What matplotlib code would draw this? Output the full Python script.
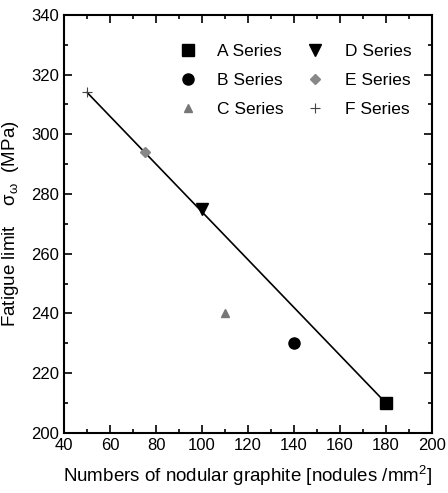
import numpy as np
import matplotlib.pyplot as plt
from matplotlib.ticker import MultipleLocator

plt.rcParams['font.family'] = ['Liberation Sans', 'DejaVu Sans']
plt.rcParams['mathtext.fontset'] = 'custom'
plt.rcParams['mathtext.rm'] = 'Liberation Sans'
plt.rcParams['mathtext.it'] = 'Liberation Sans'

# ---------------------------
# DATA
# ---------------------------
series = ['A Series', 'B Series', 'C Series', 'D Series', 'E Series', 'F Series']
nodules = [180, 140, 110, 100, 75, 50]
fatigue = [210, 230, 240, 275, 294, 314]

fit_x = [50, 180]
fit_y = [314, 210]

styles = [
    dict(marker='s', color='black', ms=9),
    dict(marker='o', color='black', ms=8),
    dict(marker='^', color='#777777', ms=6),
    dict(marker='v', color='black', ms=9),
    dict(marker='D', color='#888888', ms=5),
    dict(marker='+', color='#444444', ms=7, mew=0.8),
]

# ---------------------------
# PLOT
# ---------------------------
fig = plt.figure(figsize=(4.48, 4.93), dpi=100)
ax = fig.add_axes([0.143, 0.122, 0.821, 0.848])

ax.plot(fit_x, fit_y, color='black', lw=1.2, zorder=2)

for name, x, y, st in zip(series, nodules, fatigue, styles):
    ax.plot([x], [y], linestyle='none', label=name, zorder=3, **st)

ax.set_xlim(40, 200)
ax.set_ylim(200, 340)
ax.xaxis.set_major_locator(MultipleLocator(20))
ax.xaxis.set_minor_locator(MultipleLocator(10))
ax.yaxis.set_major_locator(MultipleLocator(20))
ax.yaxis.set_minor_locator(MultipleLocator(10))
ax.tick_params(which='both', direction='in', top=True, right=True, labelsize=12, width=1.2)
ax.tick_params(which='major', length=6)
ax.tick_params(which='minor', length=3)
for sp in ax.spines.values():
    sp.set_linewidth(1.5)

ax.set_xlabel('Numbers of nodular graphite [nodules /mm$^2$]', fontsize=13.5, labelpad=8)
ax.set_ylabel('Fatigue limit    $\\sigma_{\\omega}$  (MPa)', fontsize=13.5, labelpad=7)

ax.legend(ncol=2, frameon=False, loc='upper right', bbox_to_anchor=(0.987, 0.967),
          fontsize=12.5, handletextpad=1.2, columnspacing=1.3, labelspacing=0.8,
          handlelength=1.0)

fig.savefig('out.png', dpi=100)
